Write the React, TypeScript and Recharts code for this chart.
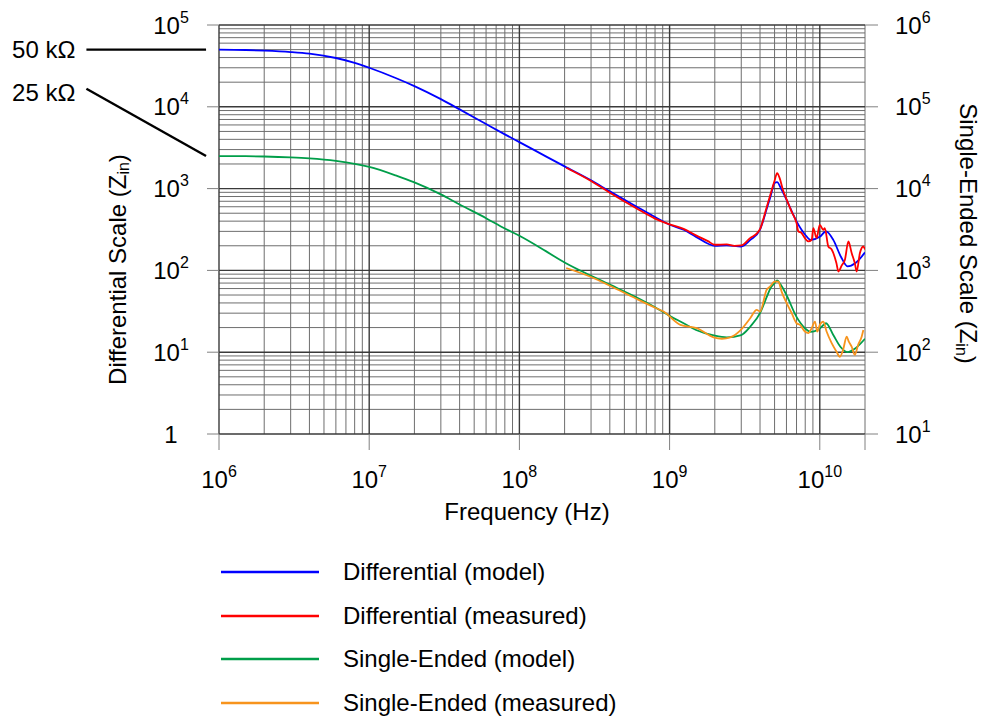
import React from 'react'
import {
    LineChart,
    Line,
    XAxis,
    YAxis,
    CartesianGrid,
    ReferenceLine,
    Legend,
} from 'recharts'

const FONT = '"Liberation Sans", Arial, Helvetica, sans-serif'

// model curves (Hz) - differential in ohms on the left scale, single-ended on the right scale
const modelFreq = [
    1e6, 1.5e6, 2e6, 3e6, 4e6, 6e6, 8e6, 1e7, 1.5e7, 2e7, 3e7, 4e7, 6e7, 8e7, 1e8, 1.5e8, 2e8, 3e8,
    4e8, 6e8, 8e8, 1e9, 1.24e9, 1.5e9, 2e9, 2.4e9, 3e9, 3.45e9, 4e9, 4.45e9, 4.7e9, 5e9, 5.2e9,
    5.5e9, 6e9, 7e9, 8e9, 8.7e9, 1e10, 1.1e10, 1.23e10, 1.38e10, 1.53e10, 1.73e10, 2e10,
]
const diffModel = [
    50000, 49500, 48600, 46700, 44600, 39500, 34500, 30000, 22500, 17900, 12400, 9300, 6150, 4600,
    3700, 2480, 1870, 1260, 925, 605, 450, 362, 314, 257, 200, 202, 196, 236, 316, 580, 803, 1170,
    1200, 1016, 731, 398, 273, 236, 257, 300, 236, 148, 112, 123, 166,
]
const seModel = [
    25000, 24900, 24700, 24100, 23400, 21800, 20100, 18400, 14500, 11900, 8500, 6400, 4350, 3250,
    2650, 1720, 1250, 860, 670, 470, 355, 278, 226, 187, 159, 152, 162, 206, 300, 480, 607, 700,
    754, 667, 500, 270, 195, 177, 195, 226, 162, 115, 100, 112, 146,
]

// measured differential
const diffMeasFreq = [
    2.05e8, 3e8, 4e8, 6e8, 8e8, 1e9, 1.24e9, 1.5e9, 1.8e9, 2e9, 2.4e9, 2.7e9, 3e9, 3.45e9, 3.8e9, 4e9,
    4.45e9, 5e9, 5.2e9, 5.4e9, 5.7e9, 6e9, 6.5e9, 7e9, 7.2e9, 7.57e9, 7.96e9, 8.39e9, 8.83e9, 9.06e9,
    9.52e9, 1e10, 1.055e10, 1.08e10, 1.14e10, 1.2e10, 1.29e10, 1.33e10, 1.4e10, 1.47e10, 1.55e10,
    1.63e10, 1.71e10, 1.76e10, 1.85e10, 1.95e10, 2e10,
]
const diffMeas = [
    1800, 1240, 890, 575, 430, 365, 322, 268, 228, 206, 208, 200, 202, 250, 282, 320,
    610, 1250, 1550, 1350, 950, 745, 520, 380, 300, 286, 248, 226, 237, 329,
    248, 361, 314, 329, 196, 180, 123, 97, 115, 135, 226,
    163, 123, 97, 163, 196, 180,
]

// measured single-ended
const seMeasFreq = [
    2.05e8, 3e8, 4e8, 6e8, 8e8, 9.12e8, 1.18e9, 1.52e9, 1.96e9, 2.23e9, 2.53e9, 2.95e9, 3.44e9, 3.8e9,
    4e9, 4.43e9, 4.67e9, 4.99e9, 5.3e9, 5.57e9, 6.02e9, 6.5e9, 7e9, 7.38e9, 7.96e9, 8.39e9, 8.83e9,
    9.29e9, 9.62e9, 1e10, 1.055e10, 1.11e10, 1.2e10, 1.29e10, 1.36e10, 1.43e10, 1.51e10, 1.56e10,
    1.63e10, 1.71e10, 1.8e10, 1.9e10, 1.95e10,
]
const seMeas = [
    1070, 830, 650, 450, 350, 314, 216, 197, 152, 146, 152, 184, 260, 330,
    314, 579, 636, 730, 730, 550, 398, 300, 226, 216, 179, 171, 197,
    237, 179, 216, 237, 179, 129, 102, 88, 107, 155, 135,
    117, 93, 123, 155, 187,
]

const seriesNames = [
    'Differential (model)',
    'Differential (measured)',
    'Single-Ended (model)',
    'Single-Ended (measured)',
]
const seriesColors = ['#0000ff', '#ff0000', '#009e49', '#f7941d']

const xTicks = [1e6, 1e7, 1e8, 1e9, 1e10, 2e10]
const leftTicks = [1, 10, 100, 1e3, 1e4, 1e5]
const rightTicks = [10, 100, 1e3, 1e4, 1e5, 1e6]

// log grid: 2..9 inside every decade
const decadeSteps = [2, 3, 4, 5, 6, 7, 8, 9]
const xMajor = [1e6, 1e7, 1e8, 1e9, 1e10]
const xMinor = [...[1e6, 1e7, 1e8, 1e9].flatMap((d) => decadeSteps.map((n) => n * d)), 2e10]
const yMajor = leftTicks
const yMinor = [1, 10, 100, 1e3, 1e4].flatMap((d) => decadeSteps.map((n) => n * d))

const modelRows = modelFreq.map((f, i) => ({ f, diff: diffModel[i], se: seModel[i] }))
const diffMeasRows = diffMeasFreq.map((f, i) => ({ f, diff: diffMeas[i] }))
const seMeasRows = seMeasFreq.map((f, i) => ({ f, se: seMeas[i] }))

function PowText({ x, y, value, anchor }: { x: number; y: number; value: number; anchor: string }) {
    const exp = Math.round(Math.log10(value))
    return (
        <text x={x} y={y} textAnchor={anchor} fontSize={24} fill="#000" fontFamily={FONT}>
            {exp === 0 ? (
                '1'
            ) : (
                <>
                    10
                    <tspan dy={-11} fontSize={16}>
                        {exp}
                    </tspan>
                </>
            )}
        </text>
    )
}

function XTick(props: any) {
    const { x, y, payload } = props
    if (payload.value > 1.5e10) return null
    return <PowText x={x} y={y + 36} value={payload.value} anchor="middle" />
}

function LeftTick(props: any) {
    const { x, y, payload } = props
    return <PowText x={x - 34} y={y + 8.5} value={payload.value} anchor="middle" />
}

function RightTick(props: any) {
    const { x, y, payload } = props
    return <PowText x={x + 15} y={y + 8.5} value={payload.value} anchor="start" />
}

function XTitle(props: any) {
    const { viewBox } = props
    return (
        <text
            x={viewBox.x + viewBox.width / 2 - 15}
            y={viewBox.y + 86}
            textAnchor="middle"
            fontSize={24}
            fill="#000"
            fontFamily={FONT}
        >
            Frequency (Hz)
        </text>
    )
}

function SideTitle(props: any) {
    const { viewBox, title, offX, offY, rot } = props
    const cx = viewBox.x + offX
    const cy = viewBox.y + viewBox.height / 2 + offY
    return (
        <text
            x={cx}
            y={cy}
            transform={`rotate(${rot}, ${cx}, ${cy})`}
            textAnchor="middle"
            dominantBaseline="central"
            fontSize={24}
            fill="#000"
            fontFamily={FONT}
        >
            {title} (Z
            <tspan fontSize={16} dy={6}>
                in
            </tspan>
            <tspan dy={-6}>)</tspan>
        </text>
    )
}

function AnnotLabel(props: any) {
    const { viewBox, title, shiftY } = props
    return (
        <text
            x={viewBox.x - 11}
            y={viewBox.y + 8.5 + shiftY}
            textAnchor="end"
            fontSize={24}
            fill="#000"
            fontFamily={FONT}
        >
            {title}
        </text>
    )
}

function LegendBlock() {
    return (
        <div style={{ fontFamily: FONT, fontSize: 24, color: '#000' }}>
            {seriesNames.map((name, i) => (
                <div key={name} style={{ display: 'flex', alignItems: 'center', height: 43.7 }}>
                    <svg width={98} height={6} style={{ display: 'block' }}>
                        <line x1={0} y1={3} x2={98} y2={3} stroke={seriesColors[i]} strokeWidth={2.5} />
                    </svg>
                    <span style={{ marginLeft: 24, whiteSpace: 'nowrap' }}>{name}</span>
                </div>
            ))}
        </div>
    )
}

export default function App() {
    return (
        <div style={{ position: 'absolute', left: 0, top: 0, width: 989, height: 719, background: '#fff' }}>
            <LineChart width={989} height={719} margin={{ top: 25, right: 24, bottom: 185, left: 19 }}>
                <CartesianGrid
                    yAxisId="diff"
                    horizontalValues={yMinor}
                    verticalValues={xMinor}
                    stroke="#6e6e6e"
                    strokeWidth={1}
                    fill="none"
                />
                <CartesianGrid
                    yAxisId="diff"
                    horizontalValues={yMajor}
                    verticalValues={xMajor}
                    stroke="#3a3a3a"
                    strokeWidth={1.4}
                    fill="none"
                />
                <XAxis
                    dataKey="f"
                    type="number"
                    scale="log"
                    domain={[1e6, 2e10]}
                    allowDataOverflow
                    ticks={xTicks}
                    interval={0}
                    height={100}
                    axisLine={false}
                    tickSize={16}
                    tickLine={{ stroke: '#808080' }}
                    tick={<XTick />}
                    label={<XTitle />}
                />
                <YAxis
                    yAxisId="diff"
                    type="number"
                    scale="log"
                    domain={[1, 1e5]}
                    allowDataOverflow
                    ticks={leftTicks}
                    interval={0}
                    width={200}
                    axisLine={false}
                    tickSize={12}
                    tickLine={{ stroke: '#808080' }}
                    tick={<LeftTick />}
                    label={<SideTitle title="Differential Scale" offX={98} offY={40} rot={-90} />}
                />
                <YAxis
                    yAxisId="se"
                    orientation="right"
                    type="number"
                    scale="log"
                    domain={[10, 1e6]}
                    allowDataOverflow
                    ticks={rightTicks}
                    interval={0}
                    width={100}
                    axisLine={false}
                    tickSize={13}
                    tickLine={{ stroke: '#808080' }}
                    tick={<RightTick />}
                    label={<SideTitle title="Single-Ended Scale" offX={103} offY={4} rot={90} />}
                />
                <ReferenceLine
                    yAxisId="diff"
                    segment={[
                        { x: 1.31e5, y: 50000 },
                        { x: 8.2e5, y: 50000 },
                    ]}
                    stroke="#000"
                    strokeWidth={2.4}
                    ifOverflow="visible"
                    label={<AnnotLabel title="50 kΩ" shiftY={0} />}
                />
                <ReferenceLine
                    yAxisId="diff"
                    segment={[
                        { x: 1.31e5, y: 16600 },
                        { x: 8.2e5, y: 2500 },
                    ]}
                    stroke="#000"
                    strokeWidth={2.4}
                    ifOverflow="visible"
                    label={<AnnotLabel title="25 kΩ" shiftY={4} />}
                />
                <Line
                    data={modelRows}
                    yAxisId="diff"
                    dataKey="diff"
                    name={seriesNames[0]}
                    type="monotone"
                    stroke={seriesColors[0]}
                    strokeWidth={1.8}
                    dot={false}
                    isAnimationActive={false}
                />
                <Line
                    data={diffMeasRows}
                    yAxisId="diff"
                    dataKey="diff"
                    name={seriesNames[1]}
                    type="monotone"
                    stroke={seriesColors[1]}
                    strokeWidth={1.8}
                    dot={false}
                    isAnimationActive={false}
                />
                <Line
                    data={modelRows}
                    yAxisId="se"
                    dataKey="se"
                    name={seriesNames[2]}
                    type="monotone"
                    stroke={seriesColors[2]}
                    strokeWidth={1.8}
                    dot={false}
                    isAnimationActive={false}
                />
                <Line
                    data={seMeasRows}
                    yAxisId="se"
                    dataKey="se"
                    name={seriesNames[3]}
                    type="monotone"
                    stroke={seriesColors[3]}
                    strokeWidth={1.8}
                    dot={false}
                    isAnimationActive={false}
                />
                <Legend
                    layout="vertical"
                    align="center"
                    verticalAlign="middle"
                    wrapperStyle={{ left: 221, top: 550, width: 420 }}
                    content={() => <LegendBlock />}
                />
            </LineChart>
        </div>
    )
}
